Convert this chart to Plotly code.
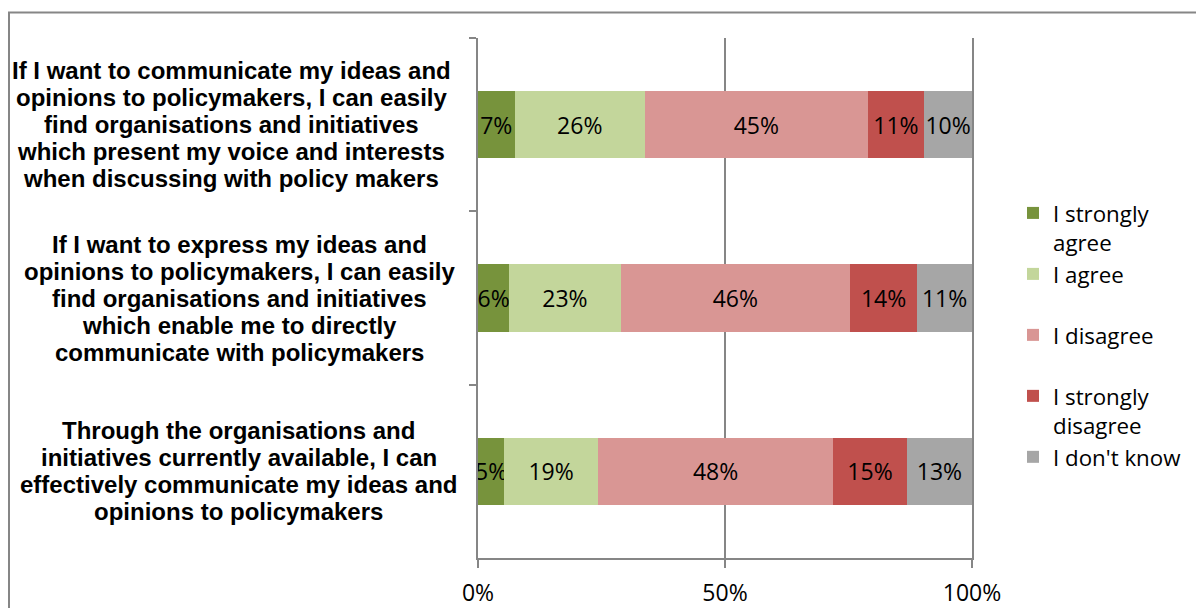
import plotly.graph_objects as go

categories = [
    ["If I want to communicate my ideas and",
     "opinions to policymakers, I can easily",
     "find organisations and initiatives",
     "which present my voice and interests",
     "when discussing with policy makers"],
    ["If I want to express my ideas and",
     "opinions to policymakers, I can easily",
     "find organisations and initiatives",
     "which enable me to directly",
     "communicate with policymakers"],
    ["Through the organisations and",
     "initiatives currently available, I can",
     "effectively communicate my ideas and",
     "opinions to policymakers"],
]
series_names = ["I strongly agree", "I agree", "I disagree", "I strongly disagree", "I don't know"]
legend_labels = ["I strongly<br>agree", "I agree<br> ", "I disagree<br> ", "I strongly<br>disagree", "I don't know"]
strongly_agree = [7.4, 6.3, 5.3]
agree = [26.4, 22.6, 19.0]
disagree = [45.1, 46.4, 47.6]
strongly_disagree = [11.4, 13.6, 14.9]
dont_know = [9.7, 11.1, 13.2]
colors = ["#77933C", "#C3D69B", "#D99694", "#C0504D", "#A6A6A6"]
x_ticks = [0, 50, 100]
x_tick_labels = ["0%", "50%", "100%"]

values = [strongly_agree, agree, disagree, strongly_disagree, dont_know]
cat_ids = ["c1", "c2", "c3"]
label_centers = [-0.5, -0.482, -0.484]  # paper x of each label block's center

TXT_FONT = "Open Sans"
GRAY = "#868686"
LINE_STEP = 27

fig = go.Figure()
for name, lab, vals, col in zip(series_names, legend_labels, values, colors):
    fig.add_trace(go.Bar(
        y=cat_ids, x=vals, name=lab, orientation="h",
        marker=dict(color=col, line=dict(width=0)),
        text=[f"{v:.0f}%" for v in vals],
        textposition="inside", insidetextanchor="middle", textangle=0,
        constraintext="none",
        textfont=dict(family=TXT_FONT, size=23, color="#000000"),
        hoverinfo="skip",
    ))

# category labels: one centered annotation per line for tight line spacing
for cid, lines, xc in zip(cat_ids, categories, label_centers):
    n = len(lines)
    for i, line in enumerate(lines):
        fig.add_annotation(
            x=xc, xref="paper", y=cid, yref="y", text=line,
            yshift=((n - 1) / 2 - i) * LINE_STEP,
            showarrow=False, xanchor="center", yanchor="middle", align="center",
            font=dict(family="Liberation Sans", size=24, color="#000000", weight="bold"),
        )

# outer chart border (top and left visible)
fig.add_shape(type="rect", xref="paper", yref="paper",
              x0=-469 / 494, x1=1.6, y0=-0.2, y1=1.049,
              line=dict(color=GRAY, width=2), fillcolor="rgba(0,0,0,0)", layer="below")

fig.update_layout(
    barmode="stack",
    bargap=0.61,
    width=1196, height=600,
    margin=dict(l=470, r=232, t=30, b=50, autoexpand=False),
    paper_bgcolor="white", plot_bgcolor="white",
    uniformtext=dict(minsize=23, mode="show"),
    showlegend=True,
    legend=dict(
        x=1.083, xanchor="left", y=0.704, yanchor="top",
        traceorder="normal",
        font=dict(family=TXT_FONT, size=22.3, color="#000000"),
        valign="top", tracegroupgap=0, itemclick=False,
        bgcolor="rgba(0,0,0,0)",
    ),
    xaxis=dict(
        range=[0, 100], tickvals=x_ticks, ticktext=x_tick_labels,
        showgrid=True, gridcolor=GRAY, gridwidth=1.5,
        showline=True, linecolor=GRAY, linewidth=1.5,
        ticks="outside", ticklen=8, tickcolor=GRAY, tickwidth=1.5,
        ticklabelstandoff=6, automargin=False,
        tickfont=dict(family=TXT_FONT, size=23, color="#000000"),
        zeroline=False, fixedrange=True,
    ),
    yaxis=dict(
        type="category", autorange="reversed", automargin=False,
        showticklabels=False, tickson="boundaries",
        ticks="outside", ticklen=7, tickcolor=GRAY, tickwidth=1.5,
        showline=True, linecolor=GRAY, linewidth=1.5, mirror=True,
        showgrid=False, fixedrange=True,
    ),
)

fig.write_html("out.html")
